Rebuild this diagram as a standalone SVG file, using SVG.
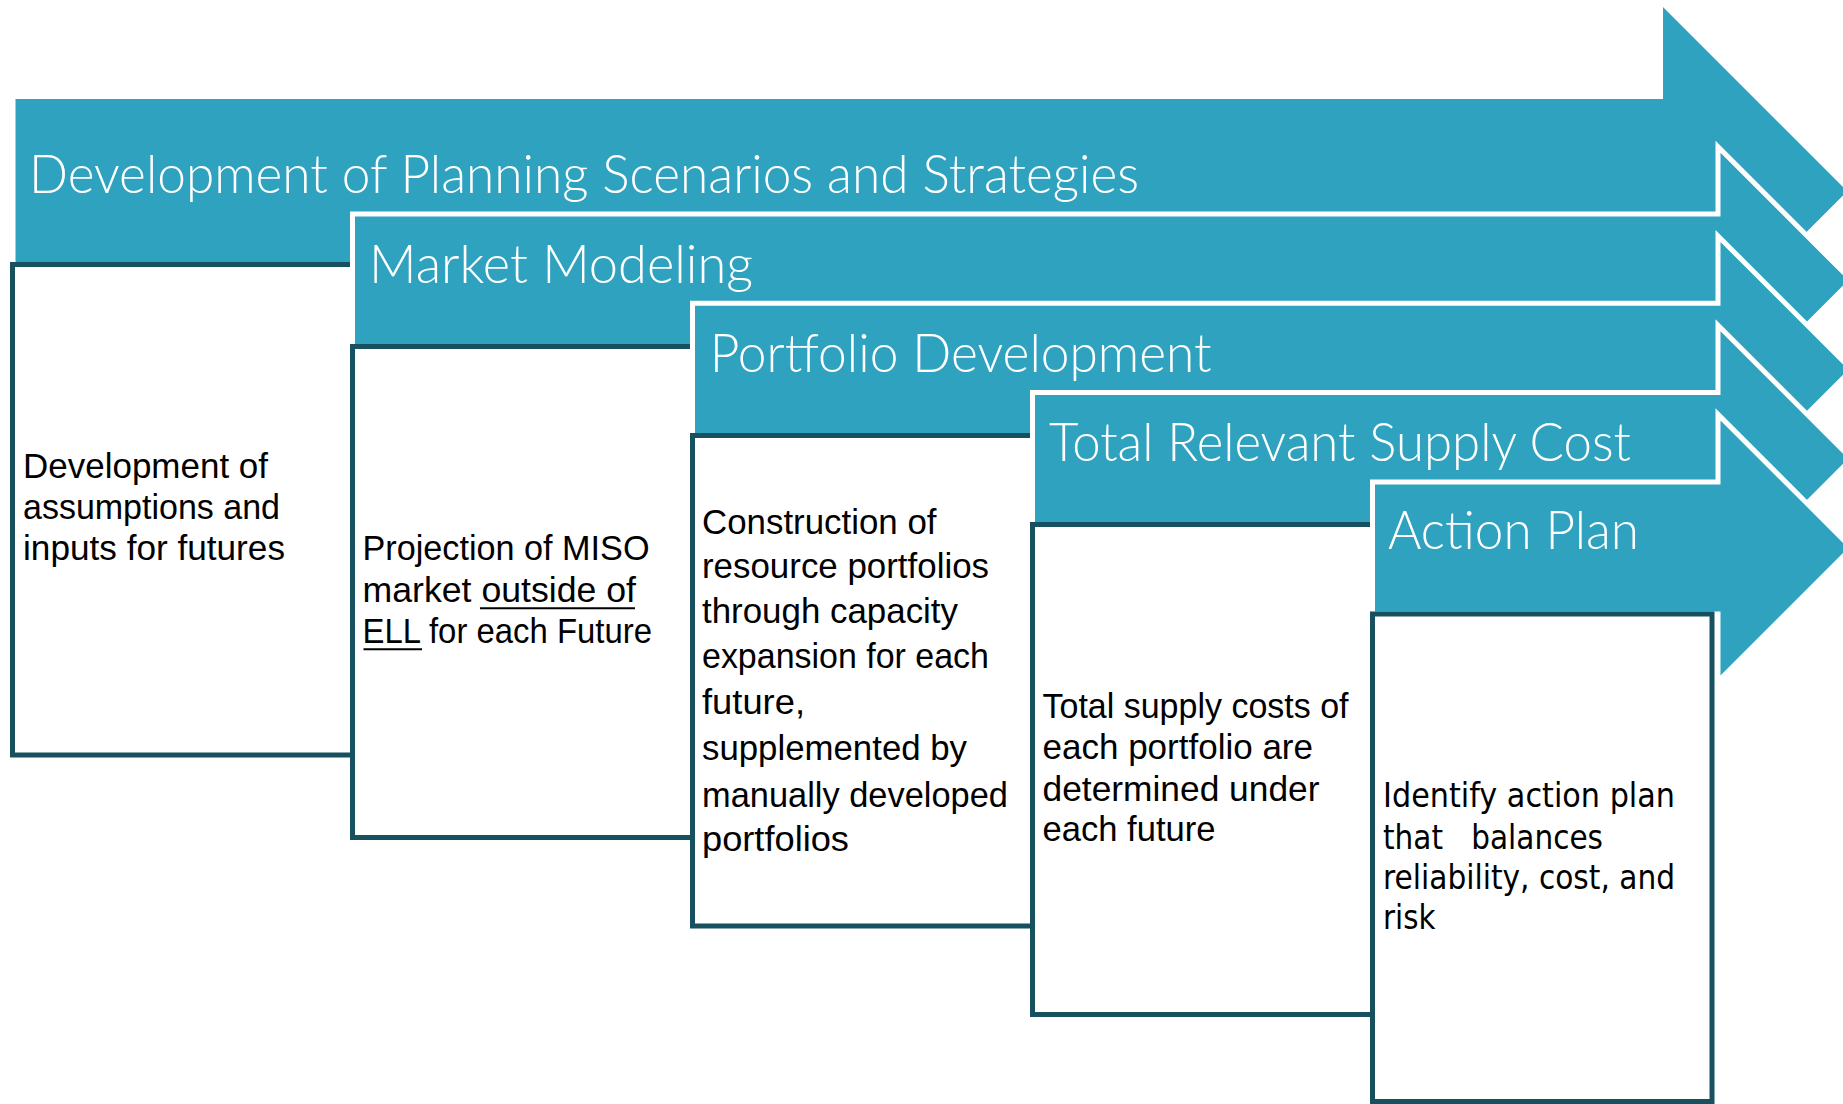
<svg xmlns="http://www.w3.org/2000/svg" width="1843" height="1104" viewBox="0 0 1843 1104">
<defs>
<style>
.arrow{fill:#2EA2BF;stroke:#FFFFFF;stroke-width:5;stroke-linejoin:miter;stroke-miterlimit:10}
.box{fill:#FFFFFF;stroke:#17505E;stroke-width:5}
.hd{font-family:Lato,"Open Sans","Liberation Sans",sans-serif;font-weight:300;font-size:53px;fill:#FFFFFF}
.bd{font-family:"Liberation Sans",Arial,sans-serif;font-size:35px;fill:#000000}
.bd5{font-family:"DejaVu Sans","Liberation Sans",sans-serif;font-size:34px;fill:#000000}
.ul{stroke:#000000;stroke-width:2}
</style>
</defs>
<rect x="0" y="0" width="1843" height="1104" fill="#FFFFFF"/>

<g id="node-planning-scenarios">
<path class="arrow" d="M13,96.5 H1660.5 V1 L1850.75,191.25 L1660.5,381.5 V283 H13 Z"/>
<text class="hd" x="29" y="192.7" textLength="1110" lengthAdjust="spacingAndGlyphs">Development of Planning Scenarios and Strategies</text>
<rect class="box" x="12.5" y="264.5" width="340" height="490.5"/>
<text class="bd" lengthAdjust="spacingAndGlyphs" x="23" y="478.3" textLength="245">Development of</text>
<text class="bd" lengthAdjust="spacingAndGlyphs" x="23" y="519.3" textLength="257">assumptions and</text>
<text class="bd" lengthAdjust="spacingAndGlyphs" x="23" y="560.3" textLength="262">inputs for futures</text>
</g>

<g id="node-market-modeling">
<path class="arrow" d="M352.5,214 H1718 V146.8 L1851.6,280.4 L1718,414 V346.5 H352.5 Z"/>
<text class="hd" x="369" y="282.7" textLength="384" lengthAdjust="spacingAndGlyphs">Market Modeling</text>
<rect class="box" x="352.5" y="346.5" width="340" height="491"/>
<text class="bd" lengthAdjust="spacingAndGlyphs" x="362.5" y="560" textLength="287">Projection of MISO</text>
<text class="bd" lengthAdjust="spacingAndGlyphs" x="362.5" y="601.7" textLength="273.5">market outside of</text>
<text class="bd" lengthAdjust="spacingAndGlyphs" x="362.5" y="642.7" textLength="289.5">ELL for each Future</text>
<line class="ul" x1="480" y1="608.3" x2="635" y2="608.3"/>
<line class="ul" x1="363.5" y1="649.3" x2="422" y2="649.3"/>
</g>

<g id="node-portfolio-development">
<path class="arrow" d="M692.5,303.2 H1718 V236 L1851.6,369.6 L1718,503.2 V435.5 H692.5 Z"/>
<text class="hd" x="709.7" y="371.7" textLength="502" lengthAdjust="spacingAndGlyphs">Portfolio Development</text>
<rect class="box" x="692.5" y="435.5" width="340" height="490.5"/>
<text class="bd" lengthAdjust="spacingAndGlyphs" x="702" y="533.6" textLength="234.5">Construction of</text>
<text class="bd" lengthAdjust="spacingAndGlyphs" x="702" y="578.2" textLength="287">resource portfolios</text>
<text class="bd" lengthAdjust="spacingAndGlyphs" x="702" y="622.9" textLength="256">through capacity</text>
<text class="bd" lengthAdjust="spacingAndGlyphs" x="702" y="667.5" textLength="287">expansion for each</text>
<text class="bd" lengthAdjust="spacingAndGlyphs" x="702" y="713.9" textLength="103">future,</text>
<text class="bd" lengthAdjust="spacingAndGlyphs" x="702" y="760.4" textLength="265">supplemented by</text>
<text class="bd" lengthAdjust="spacingAndGlyphs" x="702" y="806.8" textLength="306">manually developed</text>
<text class="bd" lengthAdjust="spacingAndGlyphs" x="702" y="851.4" textLength="147">portfolios</text>
</g>

<g id="node-total-relevant-supply-cost">
<path class="arrow" d="M1032.5,392.5 H1718 V325.2 L1851.6,458.8 L1718,592.4 V524.5 H1032.5 Z"/>
<text class="hd" x="1049" y="461" textLength="582" lengthAdjust="spacingAndGlyphs">Total Relevant Supply Cost</text>
<rect class="box" x="1032.5" y="524.5" width="340" height="490"/>
<text class="bd" lengthAdjust="spacingAndGlyphs" x="1042.5" y="717.5" textLength="306">Total supply costs of</text>
<text class="bd" lengthAdjust="spacingAndGlyphs" x="1042.5" y="758.8" textLength="270.5">each portfolio are</text>
<text class="bd" lengthAdjust="spacingAndGlyphs" x="1042.5" y="800.5" textLength="277">determined under</text>
<text class="bd" lengthAdjust="spacingAndGlyphs" x="1042.5" y="840.5" textLength="173">each future</text>
</g>

<g id="node-action-plan">
<path class="arrow" d="M1372.5,482 H1718 V414.4 L1851.6,548 L1718,681.6 V614 H1372.5 Z"/>
<text class="hd" x="1388" y="549.3" textLength="251" lengthAdjust="spacingAndGlyphs">Action Plan</text>
<rect class="box" x="1372.5" y="614" width="339.5" height="487.5"/>
<text class="bd5" lengthAdjust="spacingAndGlyphs" x="1383" y="807.4" textLength="292">Identify action plan</text>
<text class="bd5" lengthAdjust="spacingAndGlyphs" x="1383" y="848.6" textLength="220" xml:space="preserve">that   balances</text>
<text class="bd5" lengthAdjust="spacingAndGlyphs" x="1383" y="889" textLength="292">reliability, cost, and</text>
<text class="bd5" lengthAdjust="spacingAndGlyphs" x="1383" y="929.2" textLength="52.5">risk</text>
</g>

<g id="connectors"></g>
</svg>
